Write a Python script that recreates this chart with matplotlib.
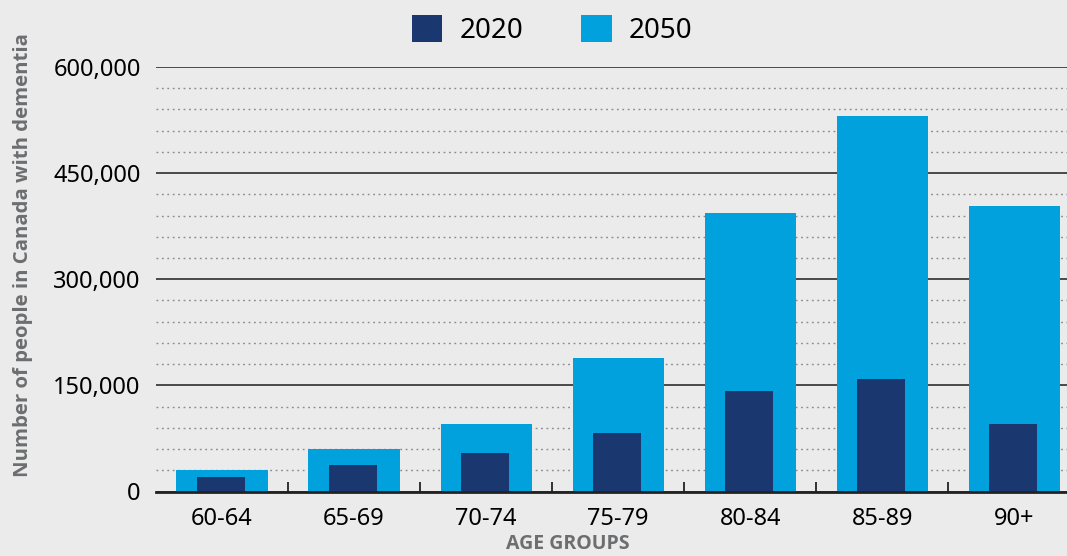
import matplotlib
matplotlib.use("Agg")
import matplotlib.pyplot as plt
from matplotlib.ticker import FuncFormatter, MultipleLocator, FixedLocator
import numpy as np

categories = ["60-64", "65-69", "70-74", "75-79", "80-84", "85-89", "90+"]
values_2020 = [20000, 38000, 55000, 83000, 142000, 159000, 95000]
values_2050 = [31000, 60500, 96000, 188500, 394000, 531000, 404000]
series_labels = ["2020", "2050"]
yticks = [0, 150000, 300000, 450000, 600000]

BG = "#ebebeb"
DARK = "#1b3770"
LIGHT = "#00a1dc"
FONT = "Noto Sans"
BOLD_FONT = ["Open Sans", "DejaVu Sans"]

plt.rcParams["font.family"] = [FONT, "DejaVu Sans"]

fig = plt.figure(figsize=(10.67, 5.56), dpi=100, facecolor=BG)
ax = fig.add_axes([156/1067, (556-491.5)/556, 1 - 156/1067, (491.5-67)/556])
ax.set_facecolor(BG)

x = np.arange(len(categories))
b2050 = ax.bar(x, values_2050, width=0.69, color=LIGHT, zorder=3, label=series_labels[1])
b2020 = ax.bar(x - 0.01, values_2020, width=0.365, color=DARK, zorder=4, label=series_labels[0])

ax.set_xlim(-0.5, 6.4)
ax.set_ylim(0, 600000)

ax.yaxis.set_major_locator(FixedLocator(yticks))
ax.yaxis.set_minor_locator(MultipleLocator(30000))
ax.yaxis.set_major_formatter(FuncFormatter(lambda v, p: f"{int(v):,}"))
ax.grid(axis="y", which="major", color="#1e1e1e", linewidth=1.1, zorder=1)
ax.grid(axis="y", which="minor", color="#8a8a8a", linestyle=(0, (1.3, 2.6)), linewidth=1.0, zorder=1)
ax.tick_params(axis="y", which="both", length=0, pad=11, labelsize=17, labelcolor="black")

ax.set_xticks(x)
ax.set_xticklabels(categories)
ax.set_xticks(x[:-1] + 0.5, minor=True)
ax.tick_params(axis="x", which="major", length=0, pad=11, labelsize=17)
ax.tick_params(axis="x", which="minor", direction="in", length=7, width=1.3, color="#222222")

for s in ["top", "right", "left"]:
    ax.spines[s].set_visible(False)
ax.spines["bottom"].set_color("#222222")
ax.spines["bottom"].set_linewidth(2)
ax.spines["bottom"].set_zorder(5)

fig.text(23/1067, 0.541, "Number of people in Canada with dementia", rotation=90,
         ha="center", va="center", fontsize=14.7, fontweight="bold", color="#6d6e70",
         family=BOLD_FONT)
fig.text(568/1067, 2/556, "AGE GROUPS", ha="center", va="bottom",
         fontsize=14, fontweight="bold", color="#6d6e70", family=BOLD_FONT)

leg = fig.legend(handles=[b2020, b2050], labels=series_labels, ncol=2,
                 loc="center", bbox_to_anchor=(552/1067, 1 - 30/556),
                 frameon=False, fontsize=20, handlelength=1.1, handleheight=1.1,
                 handletextpad=0.6, columnspacing=2.1)

fig.savefig("out.png", dpi=100, facecolor=BG)
